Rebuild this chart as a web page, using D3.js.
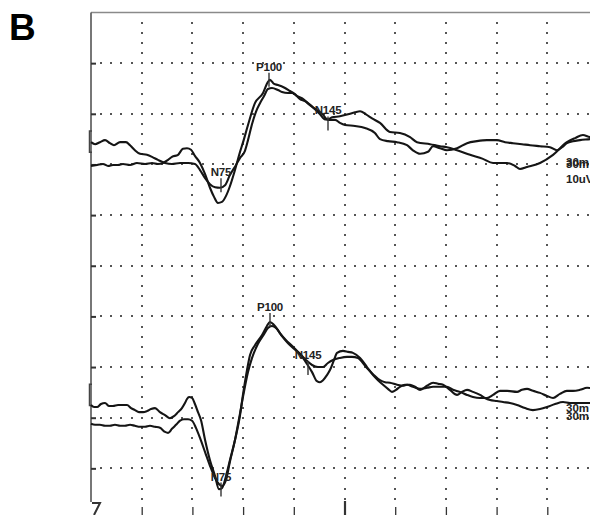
<!DOCTYPE html>
<meta charset="utf-8">
<style>
  body { margin: 0; background: #fff; }
  svg { display: block; }
  .trace { fill: none; stroke: #151515; stroke-width: 2.1; stroke-linejoin: round; }
  .dot { fill: #555; }
  .lbl { font-family: "Liberation Sans", Arial, sans-serif; fill: #222; }
  .axis path { display: none; }
  .axis line { stroke: #333; }
  .axis text { display: none; }
</style>
<body>
<script src="https://d3js.org/d3.v7.min.js"></script>
<script>
// sweep: 30 ms per division, 10 uV per division
var timeTicks = [30, 60, 90, 120, 150, 180, 210, 240, 270];
var uvTicks = [-40, -30, -20, -10, 0, 10, 20, 30, 40];
var chZero = [20, -30];   // page level (uV) of each channel's baseline

// channel 1, two runs: [ms, uV]
var top1 = [[0,4.4],[2.4,4.0],[5.3,4.4],[8.3,4.8],[11.2,4.2],[13.6,3.8],[17.2,4.4],[20.7,4.4],[23.1,3.8],
  [26.0,2.8],[29.0,2.1],[33.1,1.9],[36.1,1.5],[39.6,0.9],[43.8,0.3],[47.9,0.1],[52.7,0.3],[57.4,0.3],
  [61.5,0.1],[64.5,-1.1],[67.5,-2.7],[70.4,-3.9],[73.4,-4.5],[76.3,-4.6],[79.3,-4.1],[82.2,-2.1],
  [85.8,-0.1],[88.2,1.3],[91.1,2.7],[92.9,4.8],[95.3,8.0],[97.6,10.4],[100.0,12.1],[102.4,13.5],
  [104.7,14.9],[107.1,15.1],[110.6,14.7],[113.0,14.3],[116.6,14.1],[118.9,14.1],[121.9,13.5],
  [124.8,13.1],[128.4,12.1],[131.4,11.3],[134.3,10.6],[137.3,9.8],[140.2,8.8],[144.4,8.8],[147.3,8.2],
  [150.3,7.8],[156.2,7.6],[162.1,7.2],[168.0,6.2],[171.0,5.0],[175.7,4.6],[181.1,4.4],[187.0,3.8],
  [190.5,2.8],[194.7,2.1],[199.4,2.5],[202.4,3.6],[206.5,3.2],[210.6,2.8],[216.6,3.2],[222.5,4.2],
  [228.4,4.6],[234.3,4.8],[240.2,4.8],[245.0,4.4],[249.7,4.2],[255.0,4.0],[259.8,3.8],[265.7,3.6],
  [271.6,3.4],[275.7,2.8],[278.7,3.4],[281.6,4.2],[285.2,4.6],[289.3,4.8],[295.3,5.0],[300.0,5.2]];

var top2 = [[0,-0.3],[3.6,-0.1],[7.1,0.1],[10.1,-0.3],[13.0,-0.1],[16.0,-0.1],[18.9,0.1],[23.1,-0.1],
  [27.2,0.3],[32.0,0.1],[36.1,0.3],[39.6,0.1],[42.6,0.3],[45.6,0.9],[47.9,1.5],[51.5,1.9],[54.4,3.1],
  [56.8,3.2],[59.2,2.9],[61.5,1.7],[64.5,0.3],[67.5,-1.9],[70.4,-4.6],[72.8,-6.4],[75.1,-7.6],
  [77.5,-7.4],[79.9,-6.2],[82.2,-4.3],[85.2,-1.1],[88.2,2.5],[89.9,4.3],[92.9,7.8],[97.0,12.1],
  [101.8,14.1],[104.7,16.3],[105.9,16.7],[108.3,15.9],[110.6,15.7],[114.8,15.1],[117.7,14.5],
  [120.7,13.9],[123.7,12.9],[126.6,12.5],[129.6,11.7],[132.5,10.9],[135.5,9.9],[138.5,8.9],
  [140.2,8.9],[142.6,9.3],[147.3,9.5],[152.1,9.9],[156.2,10.3],[159.2,10.5],[162.7,9.9],[166.3,9.1],
  [171.0,8.2],[176.9,6.4],[182.8,6.2],[188.8,5.4],[192.9,4.4],[200.6,4.0],[206.5,3.6],[210.6,3.4],
  [216.6,2.8],[224.3,1.9],[231.9,1.1],[237.9,0.3],[246.2,0.3],[250.9,-0.3],[253.8,-0.9],[258.0,-0.5],
  [265.7,0.3],[273.4,1.9],[281.6,4.4],[286.4,5.2],[291.1,5.8],[295.3,5.4],[300.0,5.6]];

// channel 2, two runs: [ms, uV]
var bot1 = [[0,2.5],[1.8,2.1],[3.6,2.1],[5.9,2.7],[8.3,2.9],[10.7,2.3],[13.0,2.3],[16.0,2.5],[18.9,2.5],
  [21.3,2.5],[23.7,1.9],[26.0,1.5],[28.4,1.1],[30.8,1.1],[33.1,1.3],[35.5,1.7],[37.9,1.9],[40.8,1.1],
  [43.8,0.5],[46.7,-0.1],[49.1,0.3],[51.5,1.1],[53.8,1.9],[55.6,2.9],[56.8,3.7],[58.0,4.1],[59.8,3.9],
  [61.5,2.7],[63.3,1.1],[65.1,-0.5],[67.5,-4.4],[70.4,-8.4],[73.4,-11.5],[75.7,-14.1],[77.5,-13.9],
  [79.9,-11.5],[82.2,-8.4],[85.2,-4.4],[88.2,0.5],[89.9,4.5],[92.3,9.4],[94.1,12.4],[97.0,14.3],
  [101.2,16.3],[104.1,18.1],[105.9,18.9],[108.3,18.3],[111.8,16.7],[115.4,15.3],[118.9,14.2],
  [122.5,13.0],[125.4,11.8],[127.8,10.6],[130.8,9.0],[133.7,7.2],[135.5,7.0],[137.3,7.4],[139.6,8.4],
  [141.4,9.4],[143.8,11.4],[145.6,12.8],[149.1,13.2],[152.1,13.0],[155.0,12.8],[159.2,11.8],
  [163.3,10.0],[166.9,8.4],[169.8,7.4],[172.8,6.5],[175.7,5.7],[178.1,5.1],[180.5,5.5],[182.8,6.1],
  [185.8,6.5],[188.8,6.5],[191.7,6.1],[194.7,5.5],[198.8,6.3],[202.4,6.9],[205.3,6.7],[208.3,6.5],
  [212.4,5.5],[216.6,4.5],[219.5,5.1],[222.5,5.5],[226.0,5.1],[230.2,4.5],[233.1,3.9],[236.1,3.5],
  [240.2,3.3],[243.8,3.1],[247.9,2.9],[252.1,2.5],[256.8,1.9],[261.5,1.5],[265.7,1.7],[269.8,2.1],
  [274.6,2.7],[279.3,3.1],[283.4,2.9],[287.6,2.9],[292.3,2.9],[300.0,2.9]];

var bot2 = [[0,-1.2],[2.4,-1.4],[5.3,-1.4],[8.3,-1.6],[11.2,-1.6],[14.2,-1.4],[17.2,-1.6],[20.1,-1.6],
  [23.1,-1.4],[26.0,-1.6],[29.0,-1.8],[32.0,-1.8],[34.9,-1.6],[37.9,-1.8],[40.8,-2.0],[43.8,-2.8],
  [45.6,-3.0],[47.9,-2.2],[50.3,-1.4],[52.7,-0.6],[55.0,-0.3],[57.4,-0.3],[59.8,-0.6],[62.1,-2.0],
  [64.5,-4.0],[67.5,-6.8],[70.4,-9.5],[73.4,-11.9],[75.7,-13.1],[77.5,-13.5],[79.9,-12.3],[82.2,-8.7],
  [85.2,-4.4],[88.2,0.9],[90.5,5.1],[92.9,9.0],[95.3,11.8],[98.8,14.6],[102.4,16.5],[104.7,17.7],
  [107.1,18.1],[109.5,17.7],[113.0,16.1],[116.6,14.7],[120.1,13.6],[123.7,12.6],[127.2,11.4],
  [130.8,10.4],[134.3,10.0],[137.3,10.0],[140.2,10.8],[143.2,11.4],[147.3,11.8],[151.5,12.0],
  [154.4,12.0],[158.0,11.8],[160.9,10.8],[163.3,9.8],[166.9,8.6],[171.0,7.4],[174.0,7.0],[176.9,6.9],
  [181.1,6.5],[184.6,6.3],[187.0,6.5],[190.5,6.1],[194.7,5.7],[198.8,5.9],[202.4,6.1],[206.5,6.1],
  [210.6,6.1],[214.2,5.5],[218.3,5.1],[222.5,4.5],[226.0,4.1],[230.2,3.9],[234.3,3.9],[237.9,4.5],
  [242.0,5.3],[246.2,5.3],[252.1,5.1],[255.0,5.5],[258.0,5.7],[261.5,5.3],[265.7,4.9],[269.8,4.3],
  [273.4,3.9],[277.5,4.7],[281.6,5.3],[285.2,5.3],[289.3,5.5],[293.5,5.9],[300.0,5.5]];

// peak markers: channel, name, latency (ms), amplitude (uV)
var peaks = [
  {ch: 0, name: "P100", t: 105.3, v: 16.7},
  {ch: 0, name: "N75",  t: 76.9,  v: -4.1},
  {ch: 0, name: "N145", t: 140.2, v: 8.1},
  {ch: 1, name: "P100", t: 105.9, v: 19.3},
  {ch: 1, name: "N75",  t: 76.9,  v: -14.2},
  {ch: 1, name: "N145", t: 128.4, v: 9.8}
];

var width = 590, height = 515;
var svg = d3.select("body").append("svg")
    .attr("width", width)
    .attr("height", height);

var x = d3.scaleLinear().domain([0, 300]).range([91, 598]);
var y = d3.scaleLinear().domain([-50, 50]).range([519, 12.5]);

// panel letter
svg.append("text")
    .attr("x", 9).attr("y", 40)
    .style("font-family", "Liberation Sans, Arial, sans-serif")
    .style("font-weight", "bold")
    .style("font-size", "37px")
    .text("B");

// dotted grid: one dot every 1/5 division
var dots = [];
timeTicks.forEach(function(t) {
  for (var u = -46; u <= 48; u += 2) dots.push([t, u]);
});
uvTicks.forEach(function(u) {
  for (var t = 6; t <= 300; t += 6) dots.push([t, u]);
});
svg.append("g").selectAll("rect")
    .data(dots)
  .enter().append("rect")
    .attr("class", "dot")
    .attr("x", function(d) { return Math.round(x(d[0])) - 1; })
    .attr("y", function(d) { return Math.round(y(d[1])) - 1; })
    .attr("width", 2).attr("height", 2);

// frame
svg.append("line")
    .attr("x1", x(0)).attr("x2", width)
    .attr("y1", y(50)).attr("y2", y(50))
    .attr("stroke", "#8a8a8a").attr("stroke-width", 1.6);
svg.append("line")
    .attr("x1", x(0)).attr("x2", x(0))
    .attr("y1", y(50)).attr("y2", 502)
    .attr("stroke", "#555").attr("stroke-width", 1.6);

// left ticks and bottom time ticks
svg.append("g")
    .attr("class", "axis")
    .attr("transform", "translate(" + x(0) + ",0)")
    .call(d3.axisRight(y).tickValues(uvTicks).tickSize(5))
    .selectAll("line").attr("stroke-width", 2);

var bx = svg.append("g")
    .attr("class", "axis")
    .attr("transform", "translate(0,507)")
    .call(d3.axisBottom(x).tickValues(timeTicks).tickSize(8).tickSizeOuter(0));
bx.selectAll("line")
    .attr("stroke-width", function(d) { return d == 150 ? 2.2 : 1.3; })
    .attr("y1", function(d) { return d == 150 ? -6 : 0; });

svg.append("path")
    .attr("d", "M" + (x(0) + 1) + ",503H100L94,515")
    .attr("fill", "none").attr("stroke", "#333").attr("stroke-width", 2);

// channel markers on the left edge
chZero.forEach(function(z) {
  var y1 = y(z + 6.6), y2 = y(z + 2.4);
  svg.append("path")
      .attr("d", "M92," + y1 + "H89.5V" + y2 + "H92")
      .attr("fill", "none").attr("stroke", "#444").attr("stroke-width", 1.5);
});

// traces
var line = d3.line()
    .curve(d3.curveMonotoneX);
[[top1, 0], [top2, 0], [bot1, 1], [bot2, 1]].forEach(function(p) {
  var z = chZero[p[1]];
  svg.append("path")
      .datum(p[0])
      .attr("class", "trace")
      .attr("d", line.x(function(d) { return x(d[0]); })
                     .y(function(d) { return y(d[1] + z); }));
});

// peak ticks and names
var pk = svg.append("g").selectAll("g")
    .data(peaks)
  .enter().append("g")
    .attr("transform", function(d) {
      return "translate(" + Math.round(x(d.t)) + "," + y(d.v + chZero[d.ch]) + ")";
    });
pk.append("line")
    .attr("y1", -7).attr("y2", 7)
    .attr("stroke", "#333").attr("stroke-width", 1.4);
pk.append("text")
    .attr("class", "lbl")
    .attr("y", -9)
    .attr("text-anchor", "middle")
    .style("font-size", "11.5px")
    .style("font-weight", "bold")
    .style("letter-spacing", "-0.2px")
    .text(function(d) { return d.name; });

// sweep / gain tags at the right
var tags = [
  {ch: 0, dy: 1.5, s: "30m"}, {ch: 0, dy: 3.5, s: "30m"}, {ch: 0, dy: 18.5, s: "10uV"},
  {ch: 1, dy: -5.5, s: "30m"}, {ch: 1, dy: 2, s: "30m"}
];
svg.append("g").selectAll("text")
    .data(tags)
  .enter().append("text")
    .attr("class", "lbl")
    .attr("x", 566)
    .attr("y", function(d) { return y(chZero[d.ch]) + d.dy; })
    .style("font-size", "11.5px")
    .style("font-weight", "bold")
    .text(function(d) { return d.s; });
</script>
